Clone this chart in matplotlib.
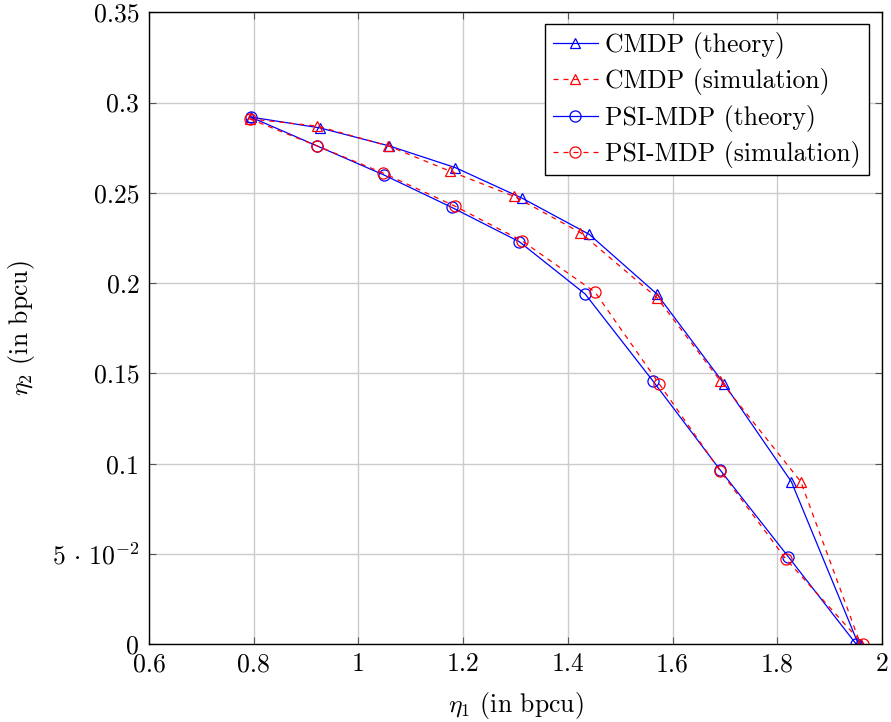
import matplotlib
matplotlib.use("Agg")
import matplotlib.pyplot as plt
from matplotlib.ticker import FixedLocator, FixedFormatter

plt.rcParams['font.family'] = 'serif'
plt.rcParams['font.serif'] = ['cmr10']
plt.rcParams['mathtext.fontset'] = 'cm'
plt.rcParams['axes.formatter.use_mathtext'] = True

# CMDP curves
cmdp_th_x = [0.794, 0.926, 1.059, 1.185, 1.313, 1.441, 1.570, 1.699, 1.827, 1.955]
cmdp_th_y = [0.292, 0.286, 0.276, 0.264, 0.247, 0.227, 0.194, 0.144, 0.090, 0.0]
cmdp_sim_x = [0.792, 0.921, 1.057, 1.175, 1.298, 1.424, 1.570, 1.691, 1.845, 1.959]
cmdp_sim_y = [0.291, 0.287, 0.276, 0.262, 0.248, 0.228, 0.192, 0.146, 0.090, 0.0]

# PSI-MDP curves
psi_th_x = [0.794, 0.921, 1.048, 1.178, 1.307, 1.433, 1.562, 1.691, 1.821, 1.951]
psi_th_y = [0.292, 0.276, 0.260, 0.242, 0.223, 0.194, 0.146, 0.0965, 0.0485, 0.0]
psi_sim_x = [0.792, 0.921, 1.047, 1.184, 1.312, 1.452, 1.575, 1.691, 1.817, 1.964]
psi_sim_y = [0.291, 0.276, 0.261, 0.2427, 0.2235, 0.195, 0.144, 0.096, 0.047, 0.0]

xticks = [0.6, 0.8, 1.0, 1.2, 1.4, 1.6, 1.8, 2.0]
xtick_labels = ['0.6', '0.8', '1', '1.2', '1.4', '1.6', '1.8', '2']
yticks = [0, 0.05, 0.1, 0.15, 0.2, 0.25, 0.3, 0.35]
ytick_labels = ['0', r'$5\,\cdot\,10^{-2}$', '0.1', '0.15', '0.2', '0.25', '0.3', '0.35']

fs = 18.5

fig = plt.figure(figsize=(8.91, 7.22), dpi=100)
ax = fig.add_axes([149 / 891, 1 - 644.3 / 722, 733 / 891, 632 / 722])

lw = 0.9
ax.plot(cmdp_th_x, cmdp_th_y, color='blue', lw=lw, marker='^', ms=7.5,
        mfc='none', mew=0.9, label='CMDP (theory)')
ax.plot(cmdp_sim_x, cmdp_sim_y, color='red', lw=lw, ls=(0, (4, 4)), marker='^', ms=7.5,
        mfc='none', mew=0.9, label='CMDP (simulation)')
ax.plot(psi_th_x, psi_th_y, color='blue', lw=lw, marker='o', ms=8,
        mfc='none', mew=0.9, label='PSI-MDP (theory)')
ax.plot(psi_sim_x, psi_sim_y, color='red', lw=lw, ls=(0, (4, 4)), marker='o', ms=8,
        mfc='none', mew=0.9, label='PSI-MDP (simulation)')

ax.set_xlim(0.6, 2.0)
ax.set_ylim(0, 0.35)
ax.xaxis.set_major_locator(FixedLocator(xticks))
ax.xaxis.set_major_formatter(FixedFormatter(xtick_labels))
ax.yaxis.set_major_locator(FixedLocator(yticks))
ax.yaxis.set_major_formatter(FixedFormatter(ytick_labels))
ax.tick_params(direction='in', top=True, right=True, labelsize=fs, length=5, color='#555555')
ax.tick_params(axis='x', pad=6)
ax.tick_params(axis='y', pad=7)
ax.grid(True, color='#cccccc', lw=1.0)
ax.set_axisbelow(True)
for s in ax.spines.values():
    s.set_linewidth(1.0)

ax.set_xlabel(r'$\eta_1$ (in bpcu)', fontsize=fs, labelpad=10)
ax.set_ylabel(r'$\eta_2$ (in bpcu)', fontsize=fs, labelpad=11)

leg = ax.legend(loc='upper right', fontsize=fs, fancybox=False, framealpha=1,
                edgecolor='black', handlelength=1.75, handletextpad=0.3,
                borderpad=0.3, labelspacing=0.36, borderaxespad=0,
                bbox_to_anchor=(0.982, 0.981))
leg.get_frame().set_linewidth(1.0)

fig.savefig('out.png', dpi=100)
